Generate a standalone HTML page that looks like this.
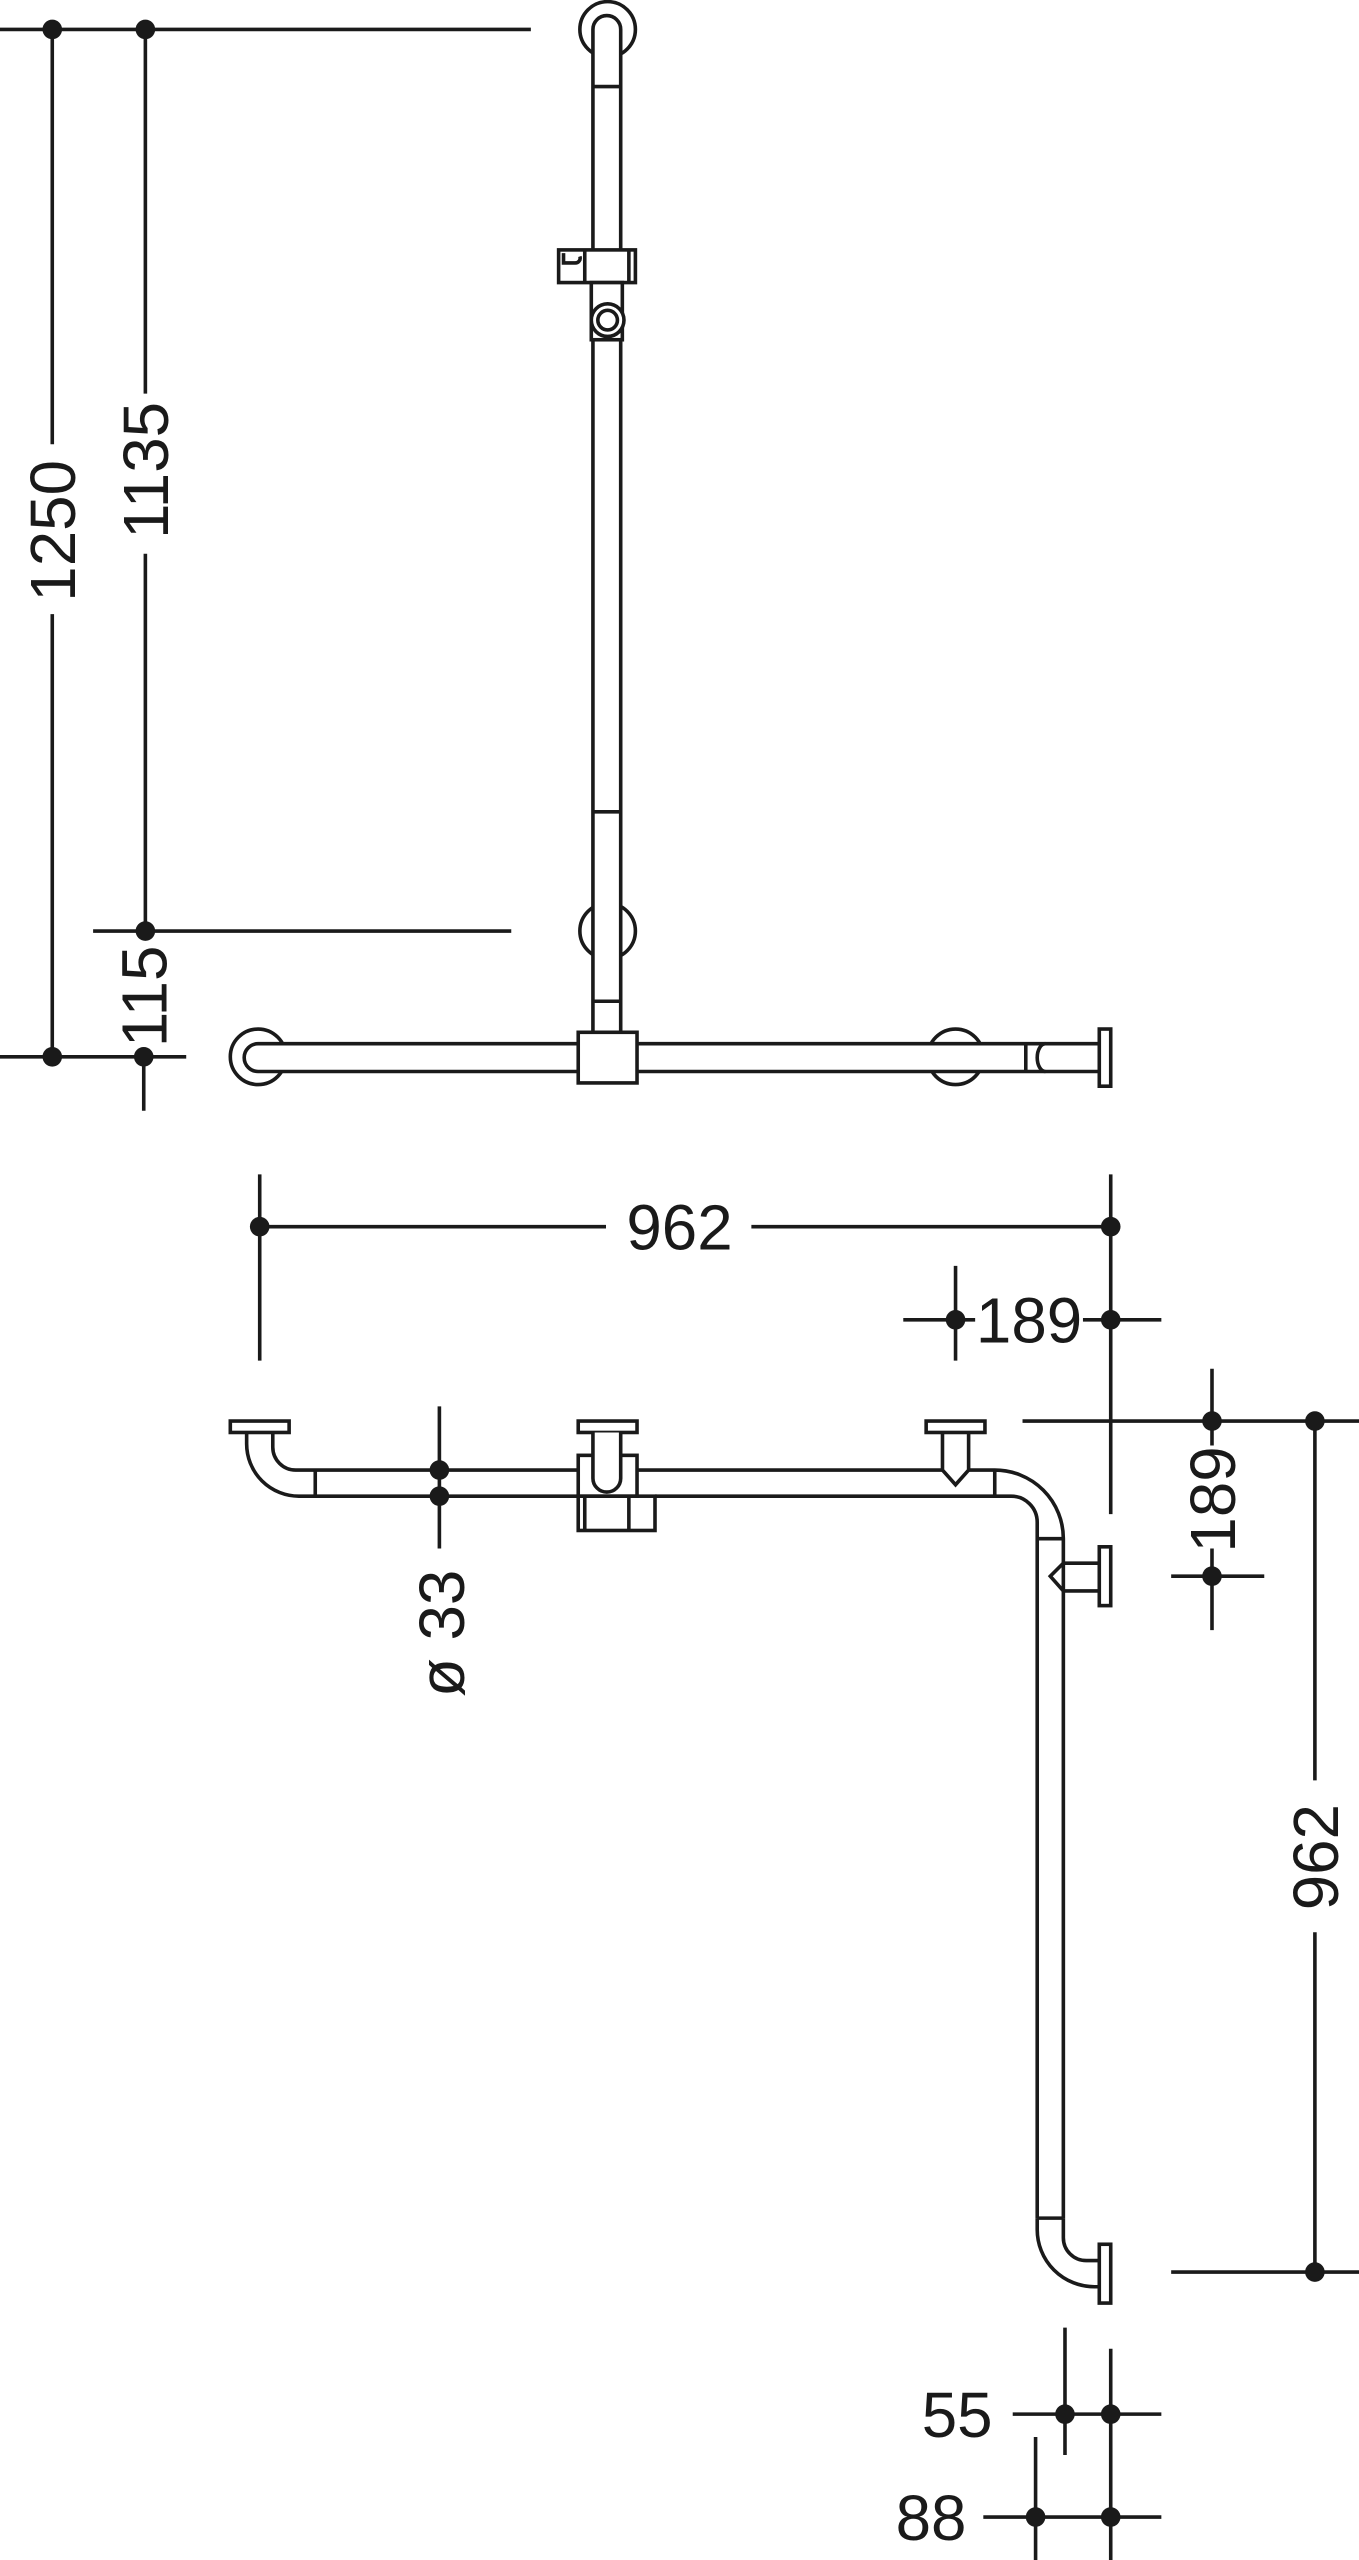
<!DOCTYPE html>
<html><head><meta charset="utf-8"><style>
html,body{margin:0;padding:0;background:#fff;}
svg{display:block;}
text{font-family:"Liberation Sans",sans-serif;font-size:39px;fill:#1a1a1a;}
</style></head><body>
<svg width="1359" height="2560" viewBox="0 0 832 1567.3" preserveAspectRatio="none" xmlns="http://www.w3.org/2000/svg">
<g stroke="#1a1a1a" stroke-width="2.2" fill="none">
<line x1="0" y1="18" x2="325" y2="18"/>
<line x1="32" y1="18" x2="32" y2="272"/><line x1="32" y1="376" x2="32" y2="647"/>
<line x1="89" y1="18" x2="89" y2="241"/><line x1="89" y1="339" x2="89" y2="570"/>
<line x1="57" y1="570" x2="313" y2="570"/>
<line x1="0" y1="647" x2="114" y2="647"/>
<line x1="88" y1="647" x2="88" y2="680"/>
<circle cx="372" cy="18" r="17"/>
<circle cx="372" cy="570" r="17"/>
<path d="M363,632 V18 A8.5,8.5 0 0 1 380,18 V632" fill="#fff"/>
<line x1="363" y1="53" x2="380" y2="53"/>
<line x1="363" y1="497" x2="380" y2="497"/>
<line x1="363" y1="613" x2="380" y2="613"/>
<rect x="342" y="153" width="47" height="20" fill="#fff"/>
<line x1="358" y1="153" x2="358" y2="173"/><line x1="385" y1="153" x2="385" y2="173"/>
<path d="M345,155 V161 H352 A3,3 0 0 0 355,157"/>
<rect x="362" y="173" width="19" height="35" fill="#fff"/>
<circle cx="372" cy="196" r="10" fill="#fff"/><circle cx="372" cy="196" r="6"/>
<circle cx="158" cy="647" r="17"/>
<circle cx="585" cy="647" r="17"/>
<path d="M673,639 H158 A8.5,8.5 0 0 0 158,656 H673" fill="#fff"/>
<line x1="628" y1="639" x2="628" y2="656"/>
<path d="M640,639 A5,8.5 0 0 0 640,656"/>
<rect x="673" y="630" width="7" height="35" fill="#fff"/>
<rect x="354" y="632" width="36" height="31" fill="#fff"/>
<line x1="159" y1="719" x2="159" y2="833"/>
<line x1="680" y1="719" x2="680" y2="927"/>
<line x1="159" y1="751" x2="371" y2="751"/><line x1="460" y1="751" x2="680" y2="751"/>
<line x1="553" y1="808" x2="597" y2="808"/><line x1="663" y1="808" x2="711" y2="808"/>
<line x1="585" y1="775" x2="585" y2="833"/>
<rect x="141" y="870" width="36" height="7"/>
<path d="M151,877 V884 A32,32 0 0 0 183,916 H354"/>
<path d="M167,877 V886 A14,14 0 0 0 181,900 H354"/>
<line x1="193" y1="900" x2="193" y2="916"/>
<line x1="390" y1="900" x2="577" y2="900"/>
<path d="M593,900 H609 A42,42 0 0 1 651,942 V1358"/>
<path d="M401,916 H619 A16,16 0 0 1 635,932 V1358"/>
<line x1="609" y1="900" x2="609" y2="916"/>
<line x1="635" y1="942" x2="651" y2="942"/>
<line x1="635" y1="1358" x2="651" y2="1358"/>
<path d="M635,1358 V1365 A35,35 0 0 0 670,1400 H673"/>
<path d="M651,1358 V1370 A14,14 0 0 0 665,1384 H673"/>
<rect x="673" y="1374" width="7" height="36"/>
<rect x="673" y="947" width="7" height="36"/>
<path d="M673,957 H651 L643,965 L651,974 H673"/>
<rect x="354" y="870" width="36" height="7"/>
<rect x="354" y="891" width="36" height="25"/>
<rect x="354" y="916" width="47" height="21"/>
<line x1="358" y1="916" x2="358" y2="937"/><line x1="385" y1="916" x2="385" y2="937"/>
<path d="M363,877 V905 A8.5,8.5 0 0 0 380,905 V877" fill="#fff"/>
<rect x="567" y="870" width="36" height="7"/>
<path d="M577,877 V900 L585,909 L593,900 V877"/>
<line x1="269" y1="861" x2="269" y2="948"/>
<line x1="626" y1="870" x2="832" y2="870"/>
<line x1="742" y1="838" x2="742" y2="885"/><line x1="742" y1="948" x2="742" y2="998"/>
<line x1="717" y1="965" x2="774" y2="965"/>
<line x1="805" y1="870" x2="805" y2="1090"/><line x1="805" y1="1183" x2="805" y2="1391"/>
<line x1="717" y1="1391" x2="832" y2="1391"/>
<line x1="620" y1="1478" x2="711" y2="1478"/>
<line x1="652" y1="1425" x2="652" y2="1503"/>
<line x1="680" y1="1438" x2="680" y2="1568"/>
<line x1="602" y1="1541" x2="711" y2="1541"/>
<line x1="634" y1="1492" x2="634" y2="1568"/>
</g>
<g fill="#1a1a1a">
<circle cx="32" cy="18" r="6"/><circle cx="89" cy="18" r="6"/>
<circle cx="89" cy="570" r="6"/><circle cx="32" cy="647" r="6"/><circle cx="88" cy="647" r="6"/>
<circle cx="159" cy="751" r="6"/><circle cx="680" cy="751" r="6"/>
<circle cx="585" cy="808" r="6"/><circle cx="680" cy="808" r="6"/>
<circle cx="269" cy="900" r="6"/><circle cx="269" cy="916" r="6"/>
<circle cx="742" cy="870" r="6"/><circle cx="805" cy="870" r="6"/>
<circle cx="742" cy="965" r="6"/><circle cx="805" cy="1391" r="6"/>
<circle cx="652" cy="1478" r="6"/><circle cx="680" cy="1478" r="6"/>
<circle cx="634" cy="1541" r="6"/><circle cx="680" cy="1541" r="6"/>
</g>
<text x="416" y="765" text-anchor="middle">962</text>
<text x="630" y="822" text-anchor="middle">189</text>
<text x="586" y="1492" text-anchor="middle">55</text>
<text x="570" y="1555" text-anchor="middle">88</text>
<text transform="translate(46,325) rotate(-90)" text-anchor="middle">1250</text>
<text transform="translate(103,288) rotate(-90)" text-anchor="middle">1135</text>
<text transform="translate(102,610) rotate(-90)" text-anchor="middle">115</text>
<text transform="translate(284,1000) rotate(-90)" text-anchor="middle">ø 33</text>
<text transform="translate(756,918) rotate(-90)" text-anchor="middle">189</text>
<text transform="translate(819,1137) rotate(-90)" text-anchor="middle">962</text>
</svg>
</body></html>
